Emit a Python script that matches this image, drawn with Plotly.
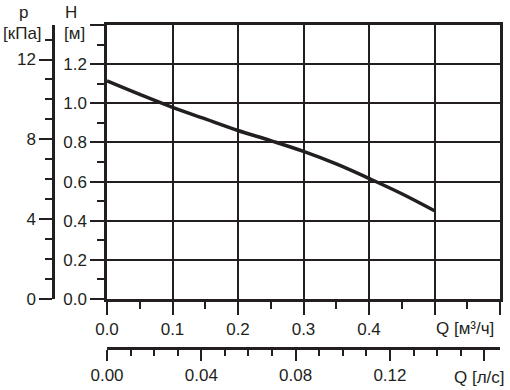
import plotly.graph_objects as go

# Data
Q_m3h = [0.0, 0.05, 0.10, 0.15, 0.20, 0.25, 0.30, 0.35, 0.40, 0.45, 0.50]
H_m = [1.114, 1.045, 0.979, 0.920, 0.861, 0.809, 0.754, 0.690, 0.616, 0.538, 0.451]

q_ticks = [0.0, 0.1, 0.2, 0.3, 0.4, 0.5, 0.6]
q_labels = ["0.0", "0.1", "0.2", "0.3", "0.4", "", ""]
ls_ticks = [0.0, 0.04, 0.08, 0.12, 0.16]
ls_labels = ["0.00", "0.04", "0.08", "0.12", ""]
h_ticks = [0.0, 0.2, 0.4, 0.6, 0.8, 1.0, 1.2, 1.4]
h_labels = ["0.0", "0.2", "0.4", "0.6", "0.8", "1.0", "1.2", ""]
p_ticks = [0, 4, 8, 12]
p_labels = ["0", "4", "8", "12"]

W, Hh = 510, 390
def px(x): return x / W
def py(y): return 1 - y / Hh

INK = "#231f20"
FONT = dict(family="Liberation Sans, Arial, sans-serif", size=17, color=INK)
G = 9.80665
QMAX = 0.6
HMAX = 1.4

fig = go.Figure()
fig.add_trace(go.Scatter(x=Q_m3h, y=H_m, mode="lines", line=dict(color=INK, width=3.5, shape="spline"),
                         showlegend=False, hoverinfo="skip"))
# invisible traces to activate secondary axes
fig.add_trace(go.Scatter(x=[0], y=[0], xaxis="x2", yaxis="y", mode="markers", marker=dict(opacity=0), showlegend=False, hoverinfo="skip"))
fig.add_trace(go.Scatter(x=[0], y=[0], xaxis="x", yaxis="y2", mode="markers", marker=dict(opacity=0), showlegend=False, hoverinfo="skip"))

dom_x = [px(107), px(500)]
dom_y = [py(299), py(25)]

fig.update_layout(
    width=W, height=Hh,
    margin=dict(l=0, r=0, t=0, b=0),
    paper_bgcolor="white", plot_bgcolor="white",
    font=FONT,
    xaxis=dict(domain=dom_x, range=[0, QMAX], tickvals=q_ticks, ticktext=q_labels,
               showgrid=True, gridcolor=INK, gridwidth=1.5, zeroline=False,
               showline=True, linecolor=INK, linewidth=2.5, mirror=True,
               ticks="outside", ticklen=13, tickwidth=2, tickcolor=INK,
               minor=dict(dtick=0.05, ticks="outside", ticklen=7, tickwidth=1.5, tickcolor=INK, showgrid=False),
               automargin=False, anchor="y", fixedrange=True),
    xaxis2=dict(overlaying="x", anchor="free", position=py(348), range=[0, QMAX / 3.6],
                tickvals=ls_ticks, ticktext=ls_labels, showgrid=False, zeroline=False,
                showline=True, linecolor=INK, linewidth=2.5,
                ticks="outside", ticklen=11, tickwidth=2, tickcolor=INK,
                minor=dict(dtick=0.01, ticks="outside", ticklen=6, tickwidth=1.5, tickcolor=INK, showgrid=False),
                automargin=False, side="bottom", fixedrange=True),
    yaxis=dict(domain=dom_y, range=[0, HMAX], tickvals=h_ticks, ticktext=h_labels,
               showgrid=True, gridcolor=INK, gridwidth=1.5, zeroline=False,
               showline=True, linecolor=INK, linewidth=2.5, mirror=True,
               ticks="outside", ticklen=14, tickwidth=2, tickcolor=INK,
               minor=dict(dtick=0.1, ticks="outside", ticklen=7, tickwidth=1.5, tickcolor=INK, showgrid=False),
               automargin=False, anchor="x", fixedrange=True),
    yaxis2=dict(overlaying="y", anchor="free", position=px(53), side="left", range=[0, HMAX * G],
                tickvals=p_ticks, ticktext=p_labels, showgrid=False, zeroline=False,
                showline=True, linecolor=INK, linewidth=2.5,
                ticks="outside", ticklen=13, tickwidth=2, tickcolor=INK,
                minor=dict(dtick=1, ticks="outside", ticklen=7, tickwidth=1.5, tickcolor=INK, showgrid=False),
                automargin=False, fixedrange=True),
)

ann = [
    ("p", 23, 13, "center"),
    ("[кПа]", 22.5, 33, "center"),
    ("H", 71, 12, "center"),
    ("[м]", 74, 33, "center"),
    ("Q [м³/ч]", 465, 328, "center"),
    ("Q [л/с]", 479, 377, "center"),
]
for t, x, y, xa in ann:
    fig.add_annotation(text=t, x=px(x), y=py(y), xref="paper", yref="paper",
                       xanchor=xa, yanchor="middle", showarrow=False, font=FONT)

fig.write_html("out.html", config={"displayModeBar": False},
               post_script="document.body.style.margin='0';document.body.style.overflow='hidden';")
